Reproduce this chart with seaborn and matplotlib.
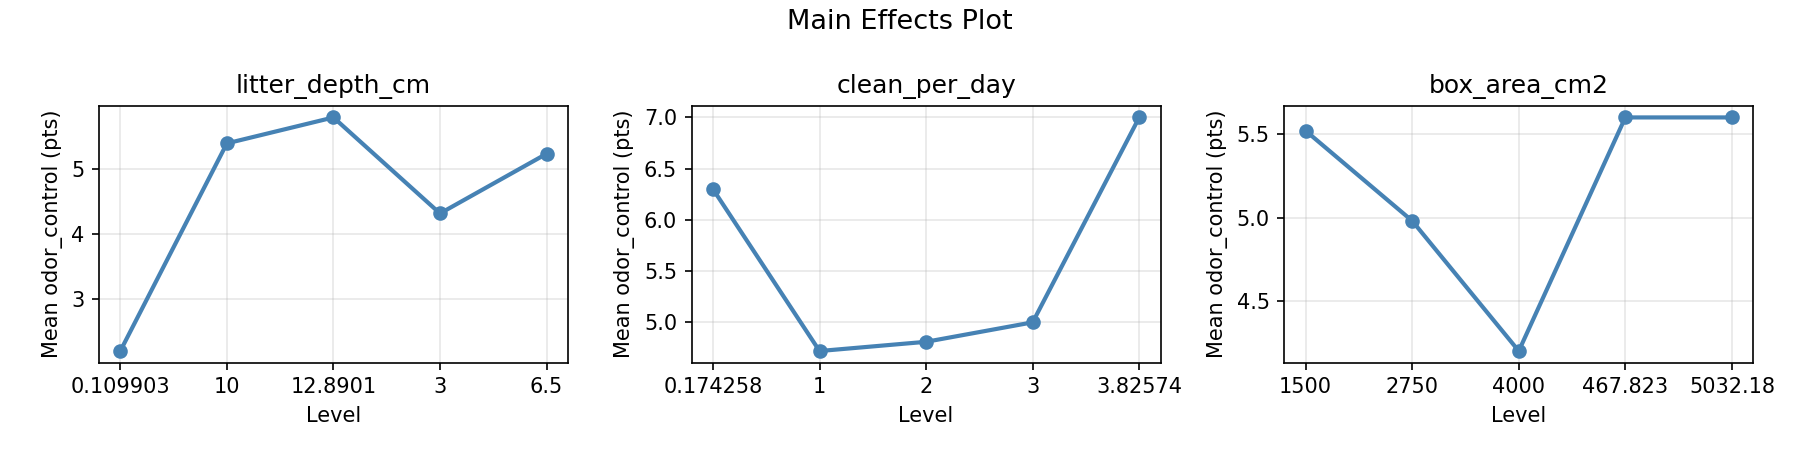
import matplotlib
matplotlib.use("Agg")
import matplotlib.pyplot as plt
import seaborn as sns
import pandas as pd

ylabel = "Mean odor_control (pts)"
xlabel = "Level"

litter_levels = ["0.109903", "10", "12.8901", "3", "6.5"]
litter_means = [2.20, 5.40, 5.80, 4.32, 5.24]

clean_levels = ["0.174258", "1", "2", "3", "3.82574"]
clean_means = [6.30, 4.72, 4.81, 5.00, 7.00]

box_levels = ["1500", "2750", "4000", "467.823", "5032.18"]
box_means = [5.52, 4.98, 4.20, 5.60, 5.60]

factors = ["litter_depth_cm", "clean_per_day", "box_area_cm2"]
level_lists = [litter_levels, clean_levels, box_levels]
mean_lists = [litter_means, clean_means, box_means]

fig, axes = plt.subplots(1, 3, figsize=(12, 3), dpi=150)
for ax, name, lv, mv in zip(axes, factors, level_lists, mean_lists):
    df = pd.DataFrame({"level": lv, "mean": mv})
    sns.lineplot(data=df, x="level", y="mean", ax=ax, sort=False,
                 color="steelblue", linewidth=2, marker="o", markersize=6,
                 markeredgecolor="steelblue", markeredgewidth=1)
    ax.set_title(name, fontsize=12)
    ax.set_xlabel(xlabel, fontsize=10)
    ax.set_ylabel(ylabel, fontsize=10)
    ax.grid(True, alpha=0.3)

fig.suptitle("Main Effects Plot", fontsize=13, y=0.979)
fig.subplots_adjust(left=0.055, right=0.974, bottom=0.194, top=0.765, wspace=0.264)
fig.savefig("out.png", dpi=150)
